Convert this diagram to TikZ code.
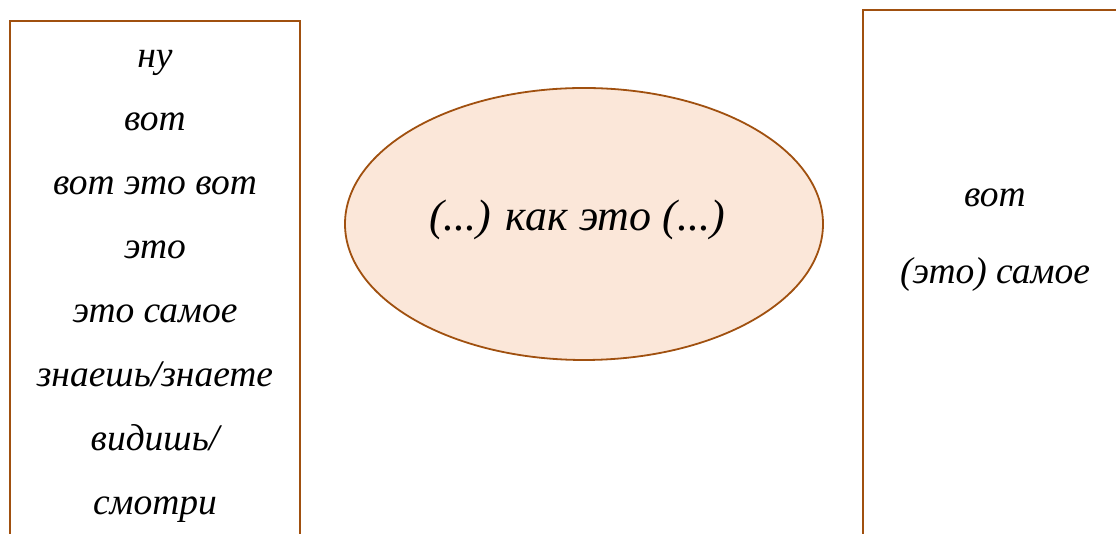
\documentclass[tikz,border=0pt]{standalone}
\usepackage{fontspec}
\setmainfont{Liberation Serif}
\usetikzlibrary{shapes.geometric}
\definecolor{brd}{HTML}{A0500F}
\definecolor{peach}{HTML}{FBE7D9}
\tikzset{
  box/.style={draw=brd, line width=2pt, fill=white},
  word/.style={font=\fontsize{37.5}{42}\selectfont\itshape, inner sep=0pt, anchor=base},
  big/.style={font=\fontsize{44}{50}\selectfont\itshape, inner sep=0pt},
}
\begin{document}
\begin{tikzpicture}[x=1pt,y=1pt]
\useasboundingbox (0,0) rectangle (1116,534);
\fill[white] (0,0) rectangle (1116,534);
\draw[box] (10,-10) rectangle (300,513);
\draw[box] (863,-10) rectangle (1130,524);
\node[draw=brd, line width=1.8pt, fill=peach, ellipse, minimum width=478pt, minimum height=272pt, inner sep=0pt] (e) at (584,310) {};
\node[big] (c) at (577,314) {(...) как это (...)};
\node[word] (l1) at (155,466) {ну};
\node[word] (l2) at (155,403) {вот};
\node[word] (l3) at (155,339) {вот это вот};
\node[word] (l4) at (155,275) {это};
\node[word] (l5) at (155,211) {это самое};
\node[word] (l6) at (155,147) {знаешь/знаете};
\node[word] (l7) at (155,83) {видишь/};
\node[word] (l8) at (155,19) {смотри};
\node[word] (r1) at (995,327) {вот};
\node[word] (r2) at (995,250) {(это) самое};
\end{tikzpicture}
\end{document}
